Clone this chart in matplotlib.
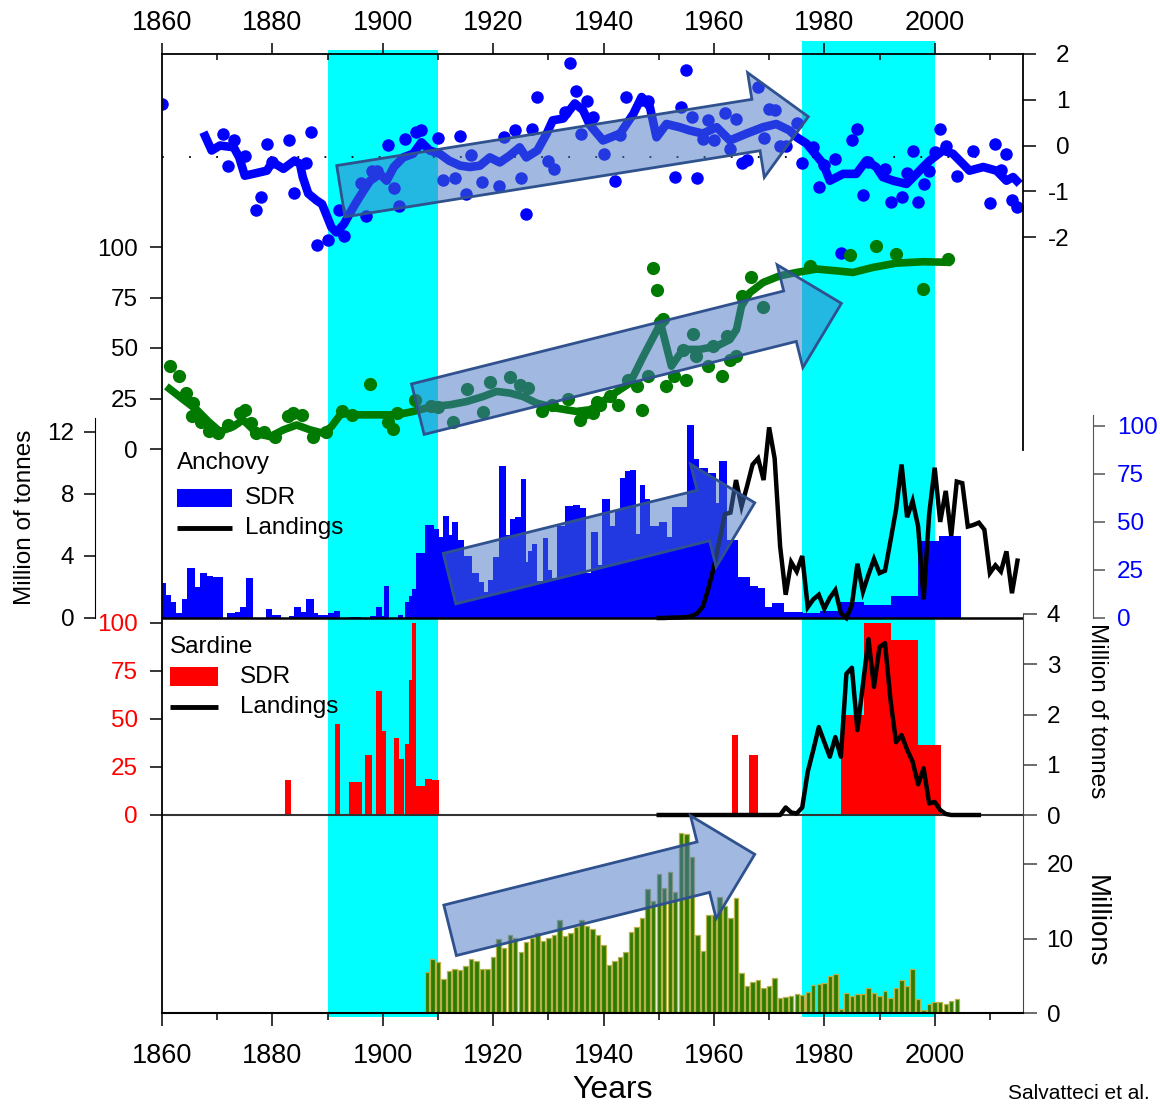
import numpy as np
import matplotlib
matplotlib.use("Agg")
import matplotlib.pyplot as plt
from matplotlib.patches import FancyArrow, Rectangle

plt.rcParams["font.family"] = ["Liberation Sans", "DejaVu Sans"]
plt.rcParams["axes.unicode_minus"] = False

# ---------------- data ----------------
years_major = list(range(1860, 2001, 20))
years_minor = list(range(1870, 2011, 20))
warm_periods = [(1890, 1910), (1976, 2000)]

# top panel: climate index (right axis)
index_ticks = [-2, -1, 0, 1, 2]
index_reference = -0.25
index_points = np.array([
    [1860, 0.90], [1871, 0.26], [1872, -0.44], [1873, 0.12], [1875, -0.22], [1877, -1.42],
    [1878, -1.13], [1879, 0.04], [1880, -0.36], [1883, 0.11], [1884, -1.04], [1886, -0.39],
    [1887, 0.29], [1888, -2.17], [1890, -2.06], [1892, -1.41], [1893, -1.98], [1896, -0.82],
    [1897, -1.55], [1898, -0.56], [1899, -0.56], [1901, 0.02], [1902, -0.93], [1903, -1.33],
    [1904, 0.15], [1906, 0.29], [1907, 0.34], [1910, 0.17], [1911, -0.75], [1913, -0.71],
    [1914, 0.20], [1915, -1.06], [1916, -0.20], [1918, -0.80], [1921, -0.88], [1922, 0.18],
    [1924, 0.33], [1925, -0.71], [1926, -1.50], [1927, 0.36], [1928, 1.07], [1930, -0.33],
    [1931, -0.51], [1933, 0.73], [1934, 1.80], [1935, 1.20], [1936, 0.26], [1937, 0.97],
    [1938, 0.63], [1940, -0.18], [1942, -0.77], [1943, 0.22], [1944, 1.07], [1947, 1.00],
    [1948, 0.98], [1953, -0.68], [1954, 0.84], [1955, 1.64], [1956, 0.63], [1957, -0.71],
    [1958, 0.15], [1959, 0.56], [1960, 0.11], [1962, 0.71], [1963, -0.07], [1964, 0.57],
    [1965, -0.38], [1966, -0.32], [1968, 1.28], [1969, 0.17], [1970, 0.80], [1971, 0.78],
    [1972, 0.00], [1973, -0.02], [1975, 0.49], [1976, -0.38], [1978, -0.04], [1979, -0.91],
    [1980, -0.42], [1982, -0.30], [1983, -2.35], [1985, 0.11], [1986, 0.36], [1987, -1.09],
    [1988, -0.35], [1991, -0.51], [1992, -1.24], [1994, -1.13], [1995, -0.60], [1996, -0.12],
    [1997, -1.24], [1998, -0.85], [1999, -0.56], [2000, -0.15], [2001, 0.36], [2002, -0.02],
    [2004, -0.67], [2007, -0.13], [2010, -1.25], [2011, 0.04], [2012, -0.53], [2013, -0.18],
    [2014, -1.20], [2015, -1.35]])
index_smooth = np.array([
    [1867.5, 0.29], [1869, -0.11], [1870.5, 0.00], [1873, -0.04], [1874, -0.26], [1875, -0.66],
    [1876.5, -0.62], [1879, -0.55], [1880, -0.36], [1882, -0.51], [1884, -0.33], [1885, -0.40],
    [1885.5, -0.69], [1886.5, -1.05], [1888, -1.20], [1889, -1.28], [1890.7, -1.79], [1891.6, -1.90],
    [1893, -1.71], [1894, -1.49], [1895, -1.28], [1896.5, -0.99], [1897.7, -0.77], [1899.5, -0.62],
    [1900.7, -0.77], [1902, -0.47], [1903.7, -0.26], [1905.5, -0.18], [1907, 0.07], [1908.5, -0.11],
    [1910.3, -0.18], [1912, -0.33], [1914, -0.44], [1915.8, -0.47], [1917.6, -0.44], [1919.4, -0.26],
    [1921.2, -0.37], [1923, -0.22], [1924.8, -0.04], [1926, -0.26], [1928, -0.11], [1929.7, 0.26],
    [1930.8, 0.55], [1932.7, 0.59], [1934.8, 0.92], [1936.3, 0.77], [1937.5, 0.45], [1939.9, 0.11],
    [1943, 0.26], [1945.4, 0.69], [1946.9, 1.06], [1948.4, 0.84], [1949.6, 0.18], [1951.4, 0.47],
    [1953.8, 0.40], [1955.6, 0.33], [1958, 0.26], [1960.5, 0.40], [1962.9, 0.11], [1965.9, 0.26],
    [1968.9, 0.40], [1971.3, 0.47], [1973.7, 0.33], [1975, 0.18], [1976.8, 0.04], [1979.8, -0.40],
    [1981, -0.77], [1983.4, -0.62], [1985.8, -0.62], [1987.6, -0.33], [1989.4, -0.47], [1990.6, -0.69],
    [1992.5, -0.77], [1994.9, -0.84], [1996.7, -0.62], [1997.9, -0.47], [1999.1, -0.33], [2001.5, -0.11],
    [2003.3, -0.18], [2005.1, -0.40], [2006.3, -0.55], [2008.8, -0.47], [2011.2, -0.55], [2013, -0.77],
    [2014.2, -0.69], [2015.4, -0.84]])

# second panel: green proxy (left axis 0-100)
green_ticks = [0, 25, 50, 75, 100]
green_points = np.array([
    [1861.4, 41.3], [1863, 36.3], [1864.3, 27.7], [1865.4, 16.4], [1865.7, 22.7], [1867, 13.6],
    [1868.6, 9.0], [1870.2, 7.8], [1872, 12.0], [1874.1, 17.7], [1875, 19.4], [1876.2, 13.0],
    [1877, 8.0], [1878.5, 8.6], [1880.5, 6.0], [1882.9, 16.1], [1883.8, 17.7], [1885.3, 16.9],
    [1887.4, 6.1], [1889.8, 8.6], [1892.7, 18.6], [1894.5, 16.9], [1897.7, 32.2], [1901, 13.6],
    [1901.9, 9.8], [1902.5, 17.7], [1905.8, 24.4], [1908.7, 21.1], [1910, 21.0], [1912.8, 13.6],
    [1915.2, 29.7], [1918.2, 18.1], [1919.4, 33.0], [1923, 35.7], [1924.8, 31.8], [1926.3, 30.2],
    [1928.8, 18.6], [1930.6, 21.9], [1933.6, 24.7], [1935.7, 14.4], [1936.5, 17.7], [1938.1, 17.7],
    [1938.9, 23.5], [1939.3, 21.9], [1941.1, 26.0], [1942.6, 21.9], [1944.5, 34.3], [1946, 31.0],
    [1946.9, 19.4], [1948.1, 36.0], [1949, 89.4], [1949.6, 78.6], [1950.2, 63.0], [1950.7, 64.6],
    [1951.4, 31.0], [1952.8, 36.0], [1954.4, 49.0], [1955, 34.3], [1956.2, 56.7], [1956.8, 46.0],
    [1959, 41.0], [1959.8, 51.0], [1961.4, 36.3], [1962.3, 56.0], [1962.9, 44.0], [1964, 46.0],
    [1965, 75.5], [1966.8, 85.0], [1968.9, 70.5], [1977.4, 90.4], [1984.7, 95.9], [1989.3, 100.6],
    [1993, 96.5], [1997.8, 79.1], [2002.4, 94.0]])
green_smooth = np.array([
    [1860.8, 31.0], [1863.9, 24.4], [1866.3, 19.4], [1868.4, 13.6], [1870.5, 8.6], [1872.9, 11.1],
    [1874.7, 14.4], [1877.2, 7.8], [1879.6, 6.1], [1882, 9.5], [1884.4, 11.9], [1886.8, 9.5],
    [1889.2, 7.8], [1890.7, 11.1], [1892.5, 17.7], [1895.3, 16.9], [1898.9, 16.9], [1902.5, 16.9],
    [1905.5, 18.6], [1909.1, 21.1], [1912.2, 21.9], [1915.2, 23.5], [1918.2, 26.0], [1920.6, 28.5],
    [1923, 27.7], [1925.4, 26.0], [1927.9, 22.7], [1931.5, 20.2], [1935.1, 18.6], [1937.5, 19.4],
    [1938.7, 21.1], [1941.1, 26.0], [1944.8, 32.7], [1947.2, 45.9], [1949.9, 60.0], [1950.5, 60.5],
    [1952.3, 41.0], [1954.4, 49.3], [1957.4, 49.3], [1960.5, 50.9], [1962.9, 54.2], [1964.1, 59.2],
    [1965, 70.8], [1966.5, 77.4], [1968.9, 82.4], [1971.9, 85.7], [1975, 87.4], [1978.6, 89.1],
    [1982.2, 88.2], [1985.2, 87.4], [1988.8, 89.9], [1993, 92.0], [1997.9, 92.7], [2003, 92.4]])

# anchovy panel
anch_land_ticks = [0, 4, 8, 12]
anch_sdr_ticks = [0, 25, 50, 75, 100]
anch_sdr_edges = [
    1860.0, 1860.8, 1861.6, 1862.5, 1863.6, 1864.6, 1865.9, 1866.8, 1868.1, 1869.3, 1871.0,
    1871.8, 1873.2, 1874.1, 1875.2, 1876.4, 1878.8, 1880.0, 1881.5, 1883.1, 1883.9, 1885.1,
    1886.1, 1887.5, 1888.3, 1890.1, 1891.2, 1892.2, 1893.9, 1896.0, 1897.7, 1898.8, 1899.8,
    1900.3, 1901.2, 1902.8, 1903.7, 1904.0, 1904.7, 1905.3, 1906.1, 1907.6, 1909.2, 1910.1,
    1911.0, 1912.0, 1912.5, 1913.7, 1914.7, 1916.1, 1917.5, 1918.4, 1919.0, 1920.0, 1921.1,
    1922.4, 1923.0, 1924.0, 1925.0, 1925.9, 1926.3, 1927.0, 1927.9, 1929.1, 1930.0, 1930.6,
    1931.5, 1933.0, 1934.4, 1935.7, 1936.8, 1937.8, 1939.0, 1939.8, 1941.2, 1942.0, 1943.0,
    1943.9, 1944.8, 1945.9, 1946.6, 1947.5, 1948.4, 1950.0, 1951.5, 1952.4, 1955.1, 1956.3,
    1957.3, 1959.0, 1960.4, 1960.9, 1962.4, 1964.4, 1966.5, 1968.0, 1969.2, 1970.5, 1972.7,
    1976.2, 1979.2, 1982.8, 1987.2, 1992.0, 1997.0, 2000.8, 2004.8]
anch_sdr = [
    18, 12, 8.5, 2.4, 9.8, 26, 16, 23.4, 22, 21.3, 0, 2.8, 3.3, 5.6, 20.8, 0, 4.5, 1.6, 0, 1.2,
    5.6, 3.3, 9.8, 2.4, 1.6, 2.8, 3.4, 0, 0.5, 0, 1.2, 5.6, 1.2, 16.8, 0, 1.6, 0, 8.5, 11.5, 15,
    33.9, 48.2, 46.3, 42.2, 53, 43, 50.1, 40.8, 32.1, 23.4, 18.8, 13.3, 20, 32, 79.2, 43, 51.7,
    52.7, 72.3, 29, 35, 38.5, 19.5, 41.7, 25, 21, 47.8, 58.3, 58.6, 57.1, 23.4, 44.9, 27.5, 62.1,
    47.8, 56.5, 73.1, 76.6, 77, 44, 69.1, 62, 48, 50, 42, 58, 100.7, 83, 78, 75.5, 60, 81.8,
    40.8, 21.1, 16.8, 15.5, 5.6, 8.0, 3.0, 2.4, 3.8, 8.5, 7.0, 11.2, 40, 42.6]
anch_land_start = 1950
anch_land = [
    0.0, 0.0, 0.02, 0.03, 0.04, 0.06, 0.12, 0.3, 0.75, 1.9,
    3.3, 5.0, 6.7, 6.8, 8.9, 7.2, 8.5, 9.9, 10.3, 8.9,
    12.3, 10.3, 4.6, 1.5, 3.6, 3.0, 4.0, 0.7, 1.2, 1.5,
    0.6, 1.3, 1.8, 0.3, 0.0, 0.85, 3.5, 1.7, 2.8, 3.8,
    2.9, 3.05, 5.0, 7.0, 9.9, 6.5, 7.55, 5.9, 1.2, 6.7,
    9.7, 6.2, 8.2, 5.3, 8.8, 8.7, 5.9, 6.0, 6.15, 5.7,
    2.9, 3.4, 3.0, 4.3, 1.6, 3.7]

# sardine panel
sard_sdr_ticks = [0, 25, 50, 75, 100]
sard_land_ticks = [0, 1, 2, 3, 4]
sard_sdr_start = [1882.3, 1891.3, 1893.9, 1896.8, 1898.8, 1899.8, 1902.1, 1903.0, 1904.0, 1904.7,
                  1905.3, 1906.1, 1907.6, 1909.0, 1963.2, 1966.3, 1983.0, 1987.2, 1992.0, 1997.0]
sard_sdr_end = [1883.4, 1892.2, 1896.2, 1898.0, 1899.8, 1900.6, 1903.0, 1903.8, 1904.7, 1905.3,
                1906.1, 1907.6, 1909.0, 1910.1, 1964.4, 1967.9, 1987.2, 1992.0, 1997.0, 2001.1]
sard_sdr = [18.1, 47.5, 17.3, 31.1, 64.8, 43.7, 40.1, 29.0, 36.8, 70.5,
            99.8, 15.2, 19.0, 18.1, 41.8, 31.1, 52.3, 99.8, 91.2, 36.6]
sard_land_start = 1950
sard_land = [
    0.0, 0.0, 0.0, 0.0, 0.0, 0.0, 0.0, 0.0, 0.0, 0.0,
    0.0, 0.0, 0.0, 0.0, 0.0, 0.0, 0.0, 0.0, 0.0, 0.0,
    0.0, 0.0, 0.0,
    0.15, 0.05, 0.03, 0.15, 0.86, 1.29, 1.75, 1.45, 1.16, 1.55,
    1.16, 2.81, 2.93, 1.69, 2.6, 3.5, 2.55, 3.34, 3.42, 2.28,
    1.45, 1.59, 1.3, 1.06, 0.61, 0.93, 0.23, 0.26, 0.1, 0.02,
    0.0, 0.0, 0.0, 0.0, 0.0, 0.0]

# bottom panel (Millions)
bottom_ticks = [0, 10, 20]
bottom_start = 1908
bottom_vals = [
    5.55, 7.25, 6.89, 4.56, 5.68, 5.95, 5.78, 6.31, 7.25, 6.98,
    5.86, 5.86, 7.47, 9.89, 8.68, 10.47, 10.02, 8.14, 9.49, 10.02,
    10.78, 9.66, 10.02, 10.42, 12.47, 10.33, 10.78, 11.5, 12.47, 11.68,
    11.28, 10.47, 9.13, 6.44, 6.98, 7.47, 8.23, 10.9, 11.57, 12.69,
    16.7, 15.0, 18.7, 16.8, 18.9, 16.2, 24.1, 24.0, 20.9, 10.5,
    8.36, 13.1, 13.1, 15.6, 14.3, 12.8, 15.4, 5.32, 3.62, 4.2,
    4.4, 3.3, 3.62, 4.65, 2.05, 2.1, 2.28, 2.5, 2.37, 2.82,
    3.76, 3.9, 3.98, 4.97, 5.19, 0.5, 2.64, 2.33, 2.5, 2.5,
    3.3, 2.64, 2.28, 2.95, 2.05, 3.4, 4.49, 3.67, 5.86, 1.87,
    0.4, 1.25, 1.47, 1.52, 1.2, 1.61, 1.87]

# trend arrows: (panel, tail (year, value), tip (year, value))
trend_arrows = [("index", (1892.4, -1.0), (1977.1, 0.63)),
                ("green", (1906.35, 19.7), (1983.1, 72.1)),
                ("anch_sdr", (1912.1, 20.5), (1967.4, 60.0)),
                ("bottom", (1912.2, 11.1), (1967.4, 21.3))]

# ---------------- layout ----------------
W, H = 1160, 1106
fig = plt.figure(figsize=(W / 100, H / 100), dpi=100)
fig.patch.set_facecolor("white")

L, R, T, B = 162, 1023, 54, 1013
X0, X1 = 1860, 2016
TICK_FS = 17.5
YEAR_FS = 19.5
CYAN = "#00FFFF"
BLUE = "#0000FF"
GREEN = "#007A00"
RED = "#FF0000"


def rect(l, t, r, b):
    return [l / W, 1 - b / H, (r - l) / W, (b - t) / H]


def ylims(y1, v1, y2, v2):
    s = (v1 - v2) / (y2 - y1)
    return v1 - (B - y1) * s, v1 + (y1 - T) * s


def data_ax(y1, v1, y2, v2, z):
    ax = fig.add_axes(rect(L, T, R, B), zorder=z)
    ax.set_xlim(X0, X1)
    ax.set_ylim(*ylims(y1, v1, y2, v2))
    ax.patch.set_visible(False)
    for s in ax.spines.values():
        s.set_visible(False)
    ax.tick_params(left=False, right=False, top=False, bottom=False, which="both",
                   labelleft=False, labelright=False, labeltop=False, labelbottom=False)
    return ax


# background warm-period bands
bg = fig.add_axes(rect(L, 0, R, H), zorder=0)
bg.set_xlim(X0, X1)
bg.set_ylim(H, 0)
bg.axis("off")
for (a, b), top in zip(warm_periods, [50, 41]):
    bg.fill_between([a, b], top, 1017, color=CYAN, lw=0)

# --- top index panel ---
ax_idx = data_ax(54, 2, 237, -2, 5)
ax_idx.axhline(index_reference, color="k", lw=1.3, ls=(0, (1, 14)))
ax_idx.plot(index_smooth[:, 0], index_smooth[:, 1], color=BLUE, lw=6.2, solid_capstyle="butt")
ax_idx.plot(index_points[:, 0], index_points[:, 1], "o", color=BLUE, ms=9, mew=0)
ax_idx.set_yticks(index_ticks)
ax_idx.tick_params(axis="y", right=True, labelright=True, direction="out", length=9.5,
                   width=1.1, pad=24, labelsize=TICK_FS)
for tk in ax_idx.yaxis.get_major_ticks():
    tk.label2.set_horizontalalignment("right")
ax_idx.set_xticks(years_major)
ax_idx.set_xticks(years_minor, minor=True)
ax_idx.tick_params(axis="x", which="major", top=True, labeltop=True, direction="out",
                   length=8, width=1.1, pad=5, labelsize=YEAR_FS)
ax_idx.tick_params(axis="x", which="minor", top=True, direction="in", length=4.5, width=1.1)
for side in ["top", "left", "right"]:
    ax_idx.spines[side].set_visible(True)
    ax_idx.spines[side].set_linewidth(1.3)
ax_idx.spines["right"].set_bounds(2 - (450 - 54) / 45.75, 2)

# --- green panel ---
ax_grn = data_ax(247, 100, 449, 0, 5)
ax_grn.plot(green_smooth[:, 0], green_smooth[:, 1], color=GREEN, lw=5.5, solid_capstyle="butt")
ax_grn.plot(green_points[:, 0], green_points[:, 1], "o", color=GREEN, ms=9.5, mew=0)
ax_grn.set_yticks(green_ticks)
ax_grn.tick_params(axis="y", left=True, labelleft=True, direction="out", length=8.6,
                   width=1.1, pad=8.6, labelsize=TICK_FS)

# --- anchovy panel ---
ax_asd = data_ax(426, 100, 618, 0, 3)
edges = np.array(anch_sdr_edges)
ax_asd.bar(edges[:-1], anch_sdr, width=np.diff(edges), align="edge", color=BLUE, lw=0)
ax_asd.set_yticks(anch_sdr_ticks)
ax_asd.spines["right"].set_visible(True)
ax_asd.spines["right"].set_position(("outward", 70 * 0.72))
ax_asd.spines["right"].set_bounds(0, 105.5)
ax_asd.spines["right"].set_color("#555555")
ax_asd.tick_params(axis="y", right=True, labelright=True, direction="out", length=8.6,
                   width=1.1, pad=8.6, labelsize=TICK_FS, labelcolor=BLUE, color="#555555")

ax_ala = data_ax(432, 12, 618, 0, 4)
ax_ala.axhline(0, color="k", lw=1.8)
ax_ala.plot(np.arange(anch_land_start, anch_land_start + len(anch_land)), anch_land,
            color="k", lw=3.2, solid_joinstyle="miter")
ax_ala.set_yticks(anch_land_ticks)
ax_ala.spines["left"].set_visible(True)
ax_ala.spines["left"].set_position(("outward", 67 * 0.72))
ax_ala.spines["left"].set_bounds(0, 12.9)
ax_ala.tick_params(axis="y", left=True, labelleft=True, direction="out", length=8,
                   width=1.1, pad=7, labelsize=TICK_FS)

# --- sardine panel ---
ax_ssd = data_ax(623, 100, 815, 0, 3)
ax_ssd.bar(sard_sdr_start, sard_sdr, width=np.array(sard_sdr_end) - np.array(sard_sdr_start),
           align="edge", color=RED, lw=0)
ax_ssd.set_yticks(sard_sdr_ticks)
ax_ssd.tick_params(axis="y", left=True, labelleft=True, direction="out", length=8.6,
                   width=1.1, pad=8.6, labelsize=TICK_FS, labelcolor=RED)

ax_sla = data_ax(614, 4, 815, 0, 4)
ax_sla.axhline(0, color="#333333", lw=1.5)
ax_sla.plot(np.arange(sard_land_start, sard_land_start + len(sard_land)), sard_land,
            color="k", lw=3.2)
ax_sla.set_yticks(sard_land_ticks)
ax_sla.spines["right"].set_visible(True)
ax_sla.spines["right"].set_bounds(0, 4)
ax_sla.spines["right"].set_color("#444444")
ax_sla.tick_params(axis="y", right=True, labelright=True, direction="out", length=10,
                   width=1.1, pad=7, labelsize=TICK_FS, color="#444444")

# --- bottom panel ---
ax_bot = data_ax(864, 20, 1013, 0, 3)
ax_bot.bar(np.arange(bottom_start, bottom_start + len(bottom_vals)), bottom_vals, width=0.8,
           color="#2F7A00", edgecolor="#B8B24A", lw=0.9)
ax_bot.set_yticks(bottom_ticks)
ax_bot.spines["right"].set_visible(True)
ax_bot.spines["right"].set_bounds(0, (1013 - 815) / 7.45)
ax_bot.spines["right"].set_color("#444444")
ax_bot.tick_params(axis="y", right=True, labelright=True, direction="out", length=10,
                   width=1.1, pad=7, labelsize=TICK_FS, color="#444444")
ax_bot.spines["bottom"].set_visible(True)
ax_bot.spines["bottom"].set_linewidth(1.5)
ax_bot.set_xticks(years_major)
ax_bot.set_xticks(years_minor, minor=True)
ax_bot.tick_params(axis="x", which="major", bottom=True, labelbottom=True, direction="out",
                   length=9.4, width=1.1, pad=12, labelsize=YEAR_FS)
ax_bot.tick_params(axis="x", which="minor", bottom=True, direction="out", length=5, width=1.1)

# --- overlay: arrows, legends, labels ---
ov = fig.add_axes([0, 0, 1, 1], zorder=20)
ov.set_xlim(0, W)
ov.set_ylim(H, 0)
ov.axis("off")
ov.patch.set_visible(False)

panel_axes = {"index": ax_idx, "green": ax_grn, "anch_sdr": ax_asd, "bottom": ax_bot}


def to_px(ax, x, v):
    px, py = ax.transData.transform((x, v))
    return px, H - py


for name, tail, tip in trend_arrows:
    ax = panel_axes[name]
    x0, y0 = to_px(ax, *tail)
    x1, y1 = to_px(ax, *tip)
    ov.add_patch(FancyArrow(x0, y0, x1 - x0, y1 - y0, width=52, head_width=106,
                            head_length=53, length_includes_head=True,
                            facecolor=(0.267, 0.447, 0.769, 0.5), edgecolor="#2F528F", lw=2))

LEG_FS = 17.5
ov.text(177, 463, "Anchovy", va="center", ha="left", fontsize=LEG_FS)
ov.add_patch(Rectangle((177, 489), 55, 18, color=BLUE, lw=0))
ov.plot([177, 232], [528, 528], color="k", lw=3.5, solid_capstyle="butt")
ov.text(245, 498, "SDR", va="center", ha="left", fontsize=LEG_FS)
ov.text(245, 528, "Landings", va="center", ha="left", fontsize=LEG_FS)

ov.text(170, 647, "Sardine", va="center", ha="left", fontsize=LEG_FS)
ov.add_patch(Rectangle((170, 667), 48, 19, color=RED, lw=0))
ov.plot([170, 218], [707, 707], color="k", lw=3.5, solid_capstyle="butt")
ov.text(240, 677, "SDR", va="center", ha="left", fontsize=LEG_FS)
ov.text(240, 707, "Landings", va="center", ha="left", fontsize=LEG_FS)

ov.text(25, 517, "Million of tonnes", rotation=90, va="center", ha="center", fontsize=17.5)
ov.text(1097, 711, "Million of tonnes", rotation=270, va="center", ha="center", fontsize=17.5)
ov.text(1096, 921, "Millions", rotation=270, va="center", ha="center", fontsize=20)
ov.text(613, 1090, "Years", va="center", ha="center", fontsize=23)
ov.text(1150, 1103, "Salvatteci et al.", va="bottom", ha="right", fontsize=15)

fig.savefig("out.png", dpi=100)
